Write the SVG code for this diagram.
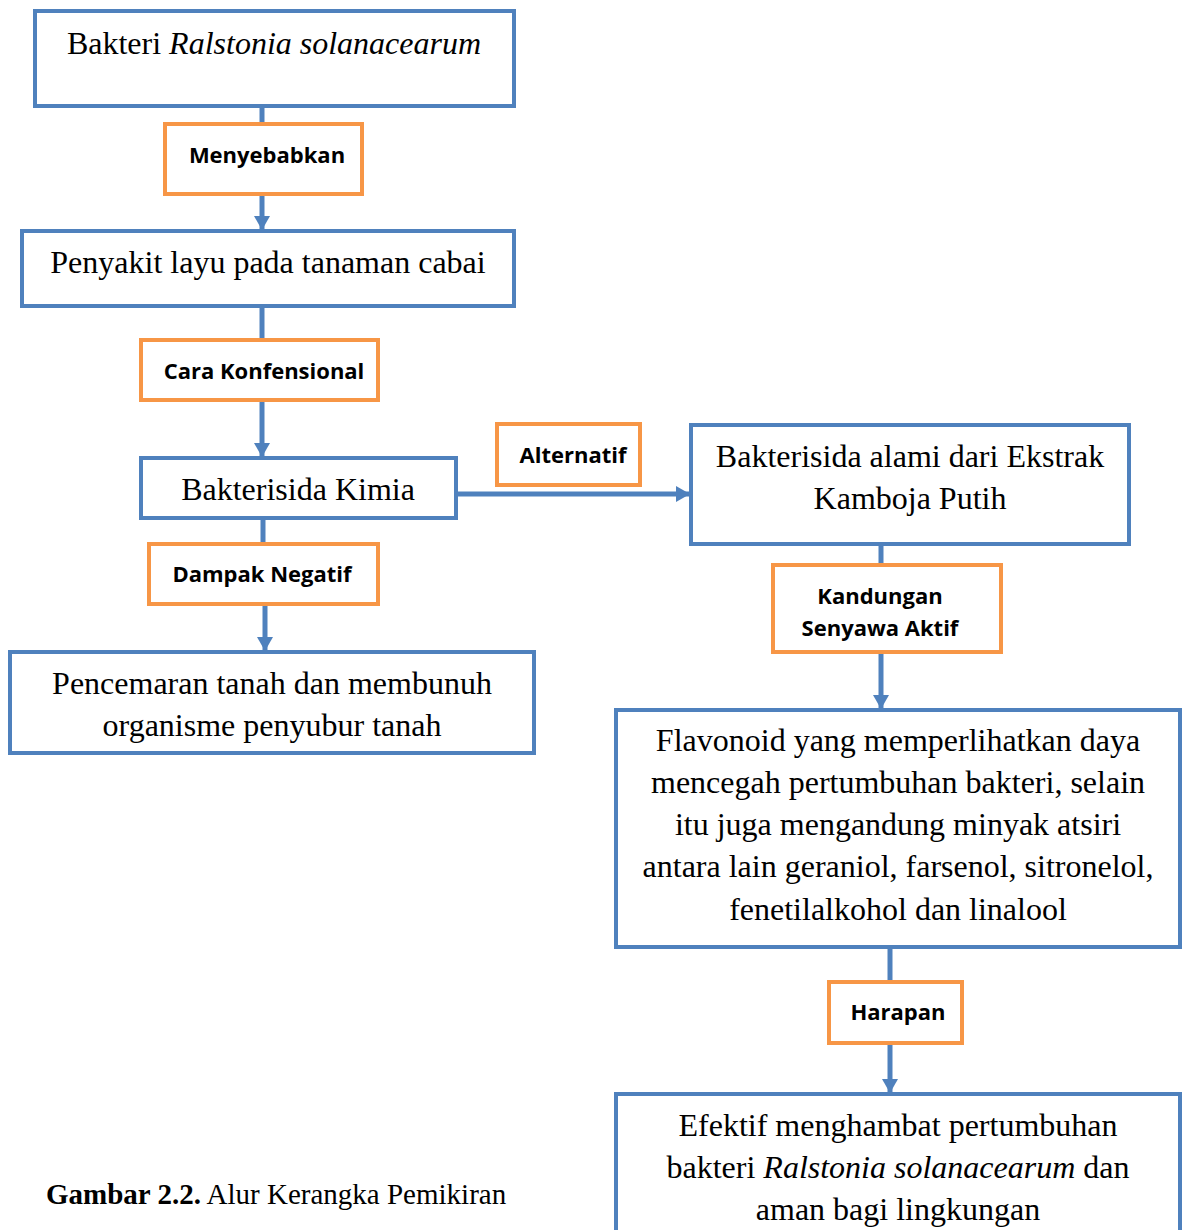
<svg xmlns="http://www.w3.org/2000/svg" width="1182" height="1230" viewBox="0 0 1182 1230">
<style>
.box{fill:#fff;stroke:#4F81BD;stroke-width:4}
.lbl{fill:#fff;stroke:#F79646;stroke-width:4}
.con{fill:none;stroke:#4F81BD;stroke-width:5}
.t{font-family:"Liberation Serif","Times New Roman",serif;font-size:32px;fill:#000;text-anchor:middle}
.l{font-family:"Open Sans","Noto Sans",sans-serif;font-weight:bold;font-size:22px;fill:#000;text-anchor:middle}
.cap{font-family:"Liberation Serif","Times New Roman",serif;font-size:29px;fill:#000}
</style>
<defs>
<marker id="ah" markerUnits="userSpaceOnUse" markerWidth="16" markerHeight="16" refX="14" refY="8" orient="auto">
<path d="M0,0 L14,8 L0,16 Z" fill="#4F81BD"/>
</marker>
</defs>
<g id="connectors">
<path class="con" d="M262,106 V124"/>
<path class="con" d="M262,194 V230" marker-end="url(#ah)"/>
<path class="con" d="M262,306 V340"/>
<path class="con" d="M262,400 V457" marker-end="url(#ah)"/>
<path class="con" d="M263,518 V544"/>
<path class="con" d="M265,604 V651" marker-end="url(#ah)"/>
<path class="con" d="M456,494 H690" marker-end="url(#ah)"/>
<path class="con" d="M881,544 V565"/>
<path class="con" d="M881,652 V709" marker-end="url(#ah)"/>
<path class="con" d="M890,947 V982"/>
<path class="con" d="M890,1043 V1093" marker-end="url(#ah)"/>
</g>
<g id="n1"><rect class="box" x="35" y="11" width="479" height="95"/>
<text class="t" x="274" y="54">Bakteri <tspan font-style="italic">Ralstonia solanacearum</tspan></text></g>
<g id="l1"><rect class="lbl" x="165" y="124" width="197" height="70"/>
<text class="l" x="267" y="163">Menyebabkan</text></g>
<g id="n2"><rect class="box" x="22" y="231" width="492" height="75"/>
<text class="t" x="268" y="273">Penyakit layu pada tanaman cabai</text></g>
<g id="l2"><rect class="lbl" x="141" y="340" width="237" height="60"/>
<text class="l" x="264" y="379">Cara Konfensional</text></g>
<g id="n3"><rect class="box" x="141" y="458" width="315" height="60"/>
<text class="t" x="298" y="500">Bakterisida Kimia</text></g>
<g id="l3"><rect class="lbl" x="497" y="424" width="143" height="61"/>
<text class="l" x="573" y="463">Alternatif</text></g>
<g id="n4"><rect class="box" x="691" y="425" width="438" height="119"/>
<text class="t" x="910" y="467">Bakterisida alami dari Ekstrak</text>
<text class="t" x="910" y="509">Kamboja Putih</text></g>
<g id="l4"><rect class="lbl" x="773" y="565" width="228" height="87"/>
<text class="l" x="880" y="604">Kandungan</text>
<text class="l" x="880" y="636">Senyawa Aktif</text></g>
<g id="n5"><rect class="box" x="616" y="710" width="564" height="237"/>
<text class="t" x="898" y="751">Flavonoid yang memperlihatkan daya</text>
<text class="t" x="898" y="793">mencegah pertumbuhan bakteri, selain</text>
<text class="t" x="898" y="835">itu juga mengandung minyak atsiri</text>
<text class="t" x="898" y="877">antara lain geraniol, farsenol, sitronelol,</text>
<text class="t" x="898" y="920">fenetilalkohol dan linalool</text></g>
<g id="l5"><rect class="lbl" x="829" y="982" width="133" height="61"/>
<text class="l" x="898" y="1020">Harapan</text></g>
<g id="n6"><rect class="box" x="616" y="1094" width="564" height="150"/>
<text class="t" x="898" y="1136">Efektif menghambat pertumbuhan</text>
<text class="t" x="898" y="1178">bakteri <tspan font-style="italic">Ralstonia solanacearum</tspan> dan</text>
<text class="t" x="898" y="1220">aman bagi lingkungan</text></g>
<g id="l6"><rect class="lbl" x="149" y="544" width="229" height="60"/>
<text class="l" x="262" y="582">Dampak Negatif</text></g>
<g id="n7"><rect class="box" x="10" y="652" width="524" height="101"/>
<text class="t" x="272" y="694">Pencemaran tanah dan membunuh</text>
<text class="t" x="272" y="736">organisme penyubur tanah</text></g>
<text class="cap" x="46" y="1204"><tspan font-weight="bold">Gambar 2.2.</tspan> Alur Kerangka Pemikiran</text>
</svg>
